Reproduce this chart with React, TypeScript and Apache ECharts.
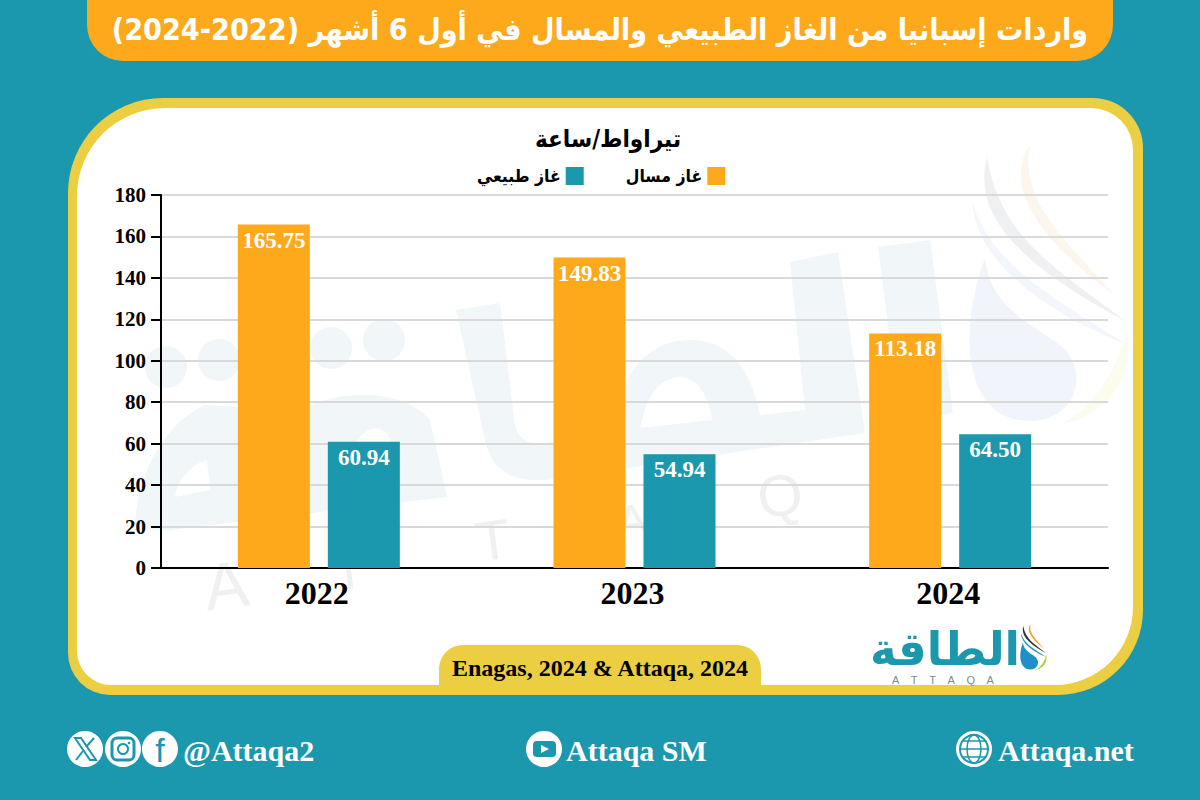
import React, { useEffect, useRef } from "react";
import * as echarts from "echarts";

const categories = ["2022", "2023", "2024"];
const lngValues = [165.75, 149.83, 113.18];
const gasValues = [60.94, 54.94, 64.5];
const lngName = "غاز مسال";
const gasName = "غاز طبيعي";
const mainTitle = "واردات إسبانيا من الغاز الطبيعي والمسال في أول 6 أشهر (2022-2024)";
const unitTitle = "تيراواط/ساعة";
const sourceText = "Enagas, 2024 & Attaqa, 2024";

const TEAL = "#1b97ae";
const ORANGE = "#fda91b";
const YELLOW = "#ebce41";
const SERIF = '"Liberation Serif", serif';
const SANS = '"Liberation Sans", sans-serif';
const ARABIC = '"DejaVu Sans Condensed", "DejaVu Sans", sans-serif';
const WM_FILL = "#f1f6f9";
const WM_GREY = "#eff0f1";

const reg = (name: string, d: string) =>
  echarts.graphic.registerShape(name, echarts.graphic.extendPath(d, {}));

reg("wmBody",
  "M456 310 L500 303 L515 425 Q520 446 545 443 L612 435 L618 400 Q640 340 690 340 Q745 340 760 415 L805 410 L790 262 L838 252 L865 433 L560 478 Q495 490 485 440 Z " +
  "M640 428 L712 420 Q705 378 680 377 Q650 378 640 428 Z");
reg("wmAlif", "M878 247 L930 240 L953 413 L900 421 Z");
reg("wmQaf",
  "M135 530 C135 470 170 420 205 405 L300 410 C330 392 400 385 430 420 L447 497 L170 530 Z " +
  "M175 497 L210 490 L207 460 C190 465 178 480 175 497 Z " +
  "M352 450 L392 444 C388 425 365 420 352 450 Z");
reg("drop", "M985 258 C958 330 962 421 1030 421 C1075 421 1092 372 1060 345 C1025 320 990 305 985 258 Z");
reg("swooshGrey", "M987 157 C975 205 1000 255 1127 322 C1050 265 1000 235 987 157 Z");
reg("swooshBlue", "M972 200 C975 260 1040 310 1127 345 C1050 295 990 265 972 200 Z");
reg("swooshOrange", "M1030 145 C1005 180 1030 235 1115 295 C1060 235 1020 200 1030 145 Z");
reg("swooshGreen", "M1060 425 C1110 415 1135 375 1127 330 C1115 375 1095 405 1060 425 Z");

function footerText(x: number, text: string) {
  return {
    type: "text", x, y: 750, z: 5,
    style: { text, fill: "#fff", font: `bold 30px ${SERIF}`, align: "left", verticalAlign: "middle" },
  };
}
function iconCircle(cx: number) {
  return { type: "circle", z: 5, shape: { cx, cy: 749, r: 18 }, style: { fill: "#fff" } };
}
function flame(x: number, y: number, scale: number, fills: string[], z: number) {
  const names = ["swooshOrange", "swooshGrey", "swooshBlue", "swooshGreen", "drop"];
  return names.map((type, i) => ({
    type, x, y, scaleX: scale, scaleY: scale, z, style: { fill: fills[i] },
  }));
}
function wmLetter(text: string, x: number, y: number, size: number) {
  return {
    type: "text", z: -9, x, y, rotation: 0.13,
    style: { text, fill: WM_GREY, font: `${size}px ${SANS}`, align: "center", verticalAlign: "middle" },
  };
}

export default function App() {
  const ref = useRef<HTMLDivElement>(null);
  useEffect(() => {
    document.body.style.margin = "0";
    const chart = echarts.init(ref.current!, undefined, { renderer: "svg" });
    const label = {
      show: true,
      position: "insideTop" as const,
      distance: 4,
      color: "#fff",
      fontFamily: SERIF,
      fontWeight: "bold" as const,
      fontSize: 23,
      formatter: (p: any) => p.value.toFixed(2),
    };
    chart.setOption({
      animation: false,
      backgroundColor: TEAL,
      title: [
        {
          text: mainTitle, left: 595, top: 9, textAlign: "center",
          textStyle: { color: "#fff", fontFamily: ARABIC, fontWeight: "bold", fontSize: 30.2 },
        },
        {
          text: unitTitle, left: 603, top: 122, textAlign: "center",
          textStyle: { color: "#000", fontFamily: ARABIC, fontWeight: "bold", fontSize: 24 },
        },
      ],
      legend: {
        data: [gasName, lngName],
        top: 162, left: 472,
        align: "right",
        icon: "rect",
        itemWidth: 18, itemHeight: 18, itemGap: 42,
        selectedMode: false,
        textStyle: { color: "#000", fontFamily: ARABIC, fontWeight: "bold", fontSize: 17.5 },
      },
      grid: { left: 161, right: 92, top: 195, bottom: 232, containLabel: false },
      xAxis: {
        type: "category", data: categories,
        axisLine: { lineStyle: { color: "#000", width: 2 } },
        axisTick: { show: false },
        axisLabel: { color: "#000", fontFamily: SERIF, fontWeight: "bold", fontSize: 32, margin: 9, padding: [0, 4, 0, 0] },
      },
      yAxis: {
        type: "value", min: 0, max: 180, interval: 20,
        axisLine: { show: true, lineStyle: { color: "#000", width: 2 } },
        axisTick: { show: true, length: 10, lineStyle: { color: "#000", width: 2 } },
        axisLabel: { color: "#000", fontFamily: SERIF, fontWeight: "bold", fontSize: 21, margin: 15 },
        splitLine: { lineStyle: { color: "#d9d9d9", width: 2 } },
      },
      series: [
        {
          name: lngName, type: "bar", data: lngValues, z: 3,
          barWidth: 72, barGap: "25%",
          itemStyle: { color: ORANGE }, label,
        },
        {
          name: gasName, type: "bar", data: gasValues, z: 3,
          barWidth: 72,
          itemStyle: { color: TEAL }, label,
        },
      ],
      graphic: [
        // Title banner
        { type: "rect", z: -10, shape: { x: 87, y: -50, width: 1026, height: 111, r: [0, 0, 36, 36] }, style: { fill: ORANGE } },
        // Panel
        { type: "rect", z: -10, shape: { x: 68, y: 98, width: 1075, height: 597, r: [95, 50, 85, 42] }, style: { fill: YELLOW } },
        { type: "rect", z: -10, shape: { x: 77, y: 108, width: 1056, height: 577, r: [88, 42, 78, 34] }, style: { fill: "#fff" } },
        // Watermark
        { type: "wmBody", z: -9, style: { fill: WM_FILL } },
        { type: "wmAlif", z: -9, style: { fill: WM_FILL } },
        { type: "wmQaf", z: -9, style: { fill: WM_FILL } },
        { type: "circle", z: -9, shape: { cx: 166, cy: 367, r: 21 }, style: { fill: WM_FILL } },
        { type: "circle", z: -9, shape: { cx: 219, cy: 360, r: 21 }, style: { fill: WM_FILL } },
        { type: "circle", z: -9, shape: { cx: 331, cy: 348, r: 21 }, style: { fill: WM_FILL } },
        { type: "circle", z: -9, shape: { cx: 384, cy: 340, r: 21 }, style: { fill: WM_FILL } },
        ...flame(0, 0, 1, ["#fdf6ec", "#eff0f2", "#f3f7fb", "#fbfbee", "#f1f4fb"], -9),
        wmLetter("A", 226, 585, 66),
        wmLetter("T", 349, 572, 50),
        wmLetter("T", 493, 540, 56),
        wmLetter("A", 632, 520, 44),
        wmLetter("Q", 780, 495, 58),
        // Source tab
        { type: "rect", z: 2, shape: { x: 439, y: 645, width: 322, height: 41, r: [24, 24, 0, 0] }, style: { fill: YELLOW } },
        {
          type: "text", z: 5, x: 600, y: 668,
          style: { text: sourceText, fill: "#000", font: `bold 24px ${SERIF}`, align: "center", verticalAlign: "middle" },
        },
        // Logo
        {
          type: "text", z: 5, x: 945, y: 649, scaleX: 1.09,
          style: { text: "الطاقة", fill: TEAL, font: `bold 46px ${ARABIC}`, align: "center", verticalAlign: "middle" },
        },
        {
          type: "text", z: 5, x: 943, y: 680,
          style: { text: "A    T    T    A    Q    A", fill: "#7d8a90", font: `11px ${SANS}`, align: "center", verticalAlign: "middle" },
        },
        ...flame(860.4, 600, 0.165, ["#f0a41e", "#333333", "#1b97ae", "#b8cf3a", "#1f8fc9"], 5),
        // Footer
        iconCircle(85),
        iconCircle(123),
        iconCircle(160),
        { type: "polygon", z: 6, shape: { points: [[75, 738], [81, 738], [96, 760], [90, 760]] }, style: { fill: "none", stroke: TEAL, lineWidth: 2 } },
        { type: "line", z: 6, shape: { x1: 94, y1: 738, x2: 86, y2: 747 }, style: { stroke: TEAL, lineWidth: 2 } },
        { type: "line", z: 6, shape: { x1: 83, y1: 751, x2: 76, y2: 760 }, style: { stroke: TEAL, lineWidth: 2 } },
        { type: "rect", z: 6, shape: { x: 112, y: 738, width: 22, height: 22, r: 5 }, style: { fill: "none", stroke: TEAL, lineWidth: 3 } },
        { type: "circle", z: 6, shape: { cx: 123, cy: 749, r: 5 }, style: { fill: "none", stroke: TEAL, lineWidth: 2 } },
        { type: "circle", z: 6, shape: { cx: 129, cy: 743, r: 1.3 }, style: { fill: TEAL } },
        { type: "text", z: 6, x: 160, y: 750, style: { text: "f", fill: TEAL, font: `34px ${SANS}`, align: "center", verticalAlign: "middle" } },
        footerText(183, "@Attaqa2"),
        iconCircle(544),
        { type: "rect", z: 6, shape: { x: 533, y: 741, width: 23, height: 16, r: 4 }, style: { fill: TEAL } },
        { type: "polygon", z: 7, shape: { points: [[541, 745], [541, 753], [549, 749]] }, style: { fill: "#fff" } },
        footerText(566, "Attaqa SM"),
        iconCircle(974),
        { type: "circle", z: 6, shape: { cx: 974, cy: 749, r: 14 }, style: { fill: "none", stroke: TEAL, lineWidth: 2 } },
        { type: "ellipse", z: 6, shape: { cx: 974, cy: 749, rx: 7, ry: 14 }, style: { fill: "none", stroke: TEAL, lineWidth: 1.5 } },
        { type: "line", z: 6, shape: { x1: 960, y1: 749, x2: 988, y2: 749 }, style: { stroke: TEAL, lineWidth: 1.5 } },
        { type: "line", z: 6, shape: { x1: 963, y1: 741, x2: 985, y2: 741 }, style: { stroke: TEAL, lineWidth: 1.5 } },
        { type: "line", z: 6, shape: { x1: 963, y1: 757, x2: 985, y2: 757 }, style: { stroke: TEAL, lineWidth: 1.5 } },
        footerText(998, "Attaqa.net"),
      ],
    });
    return () => chart.dispose();
  }, []);
  return <div ref={ref} style={{ width: 1200, height: 800 }} />;
}
